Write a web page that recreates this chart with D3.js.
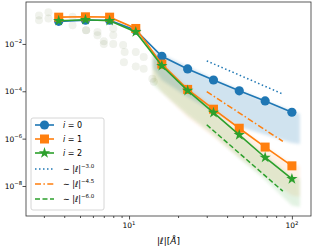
<!DOCTYPE html>
<html>
<head>
<meta charset="utf-8">
<script src="https://cdn.jsdelivr.net/npm/d3@7"></script>
<style>
  body { margin: 0; background: #fff; }
  svg { display: block; font-family: "DejaVu Sans", sans-serif; }
</style>
</head>
<body>
<div id="vis"></div>
<script>
const FRAME_WIDTH = 314;
const FRAME_HEIGHT = 246;
const MARGINS = {left: 26, right: 3, top: 2, bottom: 30};

// data
const xVals = [3.7, 5.4, 7.6, 11, 15.9, 22.9, 33, 47.5, 68.5, 100];
const blueVals = [0.09, 0.1, 0.1, 0.038, 3.0e-3, 8.8e-4, 3.0e-4, 1.05e-4, 3.9e-5, 1.3e-5];
const orangeVals = [0.135, 0.14, 0.135, 0.045, 1.4e-3, 1.2e-4, 1.75e-5, 2.75e-6, 4.4e-7, 7.1e-8];
const greenVals = [0.095, 0.105, 0.095, 0.032, 1.2e-3, 1.07e-4, 1.25e-5, 1.44e-6, 1.6e-7, 2.0e-8];
const seriesNames = ['0', '1', '2'];

// sample clouds (faint)
const cloudX = [2.8, 2.8, 3.2, 3.2, 4.5, 4.5, 5.45, 5.45, 6.4, 6.4, 7.0, 7.0, 8.0, 8.0, 8.0, 9.2, 9.3, 9.4, 11, 11, 12.3, 12.3, 13.9, 14.2];
const cloudY = [0.16, 0.10, 0.22, 0.12, 0.14, 0.062, 0.038, 0.038, 0.032, 0.023, 0.013, 0.010, 0.045, 0.023, 0.010, 0.009, 0.0017, 0.0046, 0.0046, 0.0011, 0.0028, 0.0009, 0.00034, 0.00025];
const bandX = [14, 15.9, 22.9, 33, 47.5, 68.5, 100, 112];
const blueHi = [6e-3, 3.6e-3, 1.1e-3, 3.4e-4, 1.15e-4, 4e-5, 1.5e-5, 1.1e-5];
const blueLo = [1e-3, 3e-4, 5.8e-5, 1.35e-5, 3.2e-6, 1.45e-6, 6.6e-7, 6e-7];
const orangeHi = [4e-3, 1.7e-3, 1.6e-4, 2.3e-5, 3.2e-6, 5e-7, 9e-8, 7e-8];
const orangeLo = [3e-4, 9e-5, 8e-6, 1.2e-6, 1.6e-7, 2.5e-8, 4e-9, 3.5e-9];
const greenHi = [3e-3, 1.3e-3, 1.3e-4, 1.5e-5, 1.5e-6, 2e-7, 2.5e-8, 2e-8];
const greenLo = [2e-4, 9e-5, 1e-5, 1.45e-6, 1.5e-7, 1.8e-8, 1.5e-9, 1.3e-9];

// power law guides
const refX = [30, 88];
const refExp = [-3.0, -4.5, -6.0];
const refCoef = [52, 430, 2800];
const refLabels = ['−3.0', '−4.5', '−6.0'];

const yTicks = [1e-2, 1e-4, 1e-6, 1e-8];
const yTickLabels = ['−2', '−4', '−6', '−8'];
const xTicks = [10, 100];
const xTickLabels = ['1', '2'];
const xMinor = [3, 4, 5, 6, 7, 8, 9, 20, 30, 40, 50, 60, 70, 80, 90];

const COLORS = ['#1f77b4', '#ff7f0e', '#2ca02c'];
const DASHES = ['1.5,2.5', '6,2.4,1.5,2.4', '5,2.5'];

const X_SCALE = d3.scaleLog().domain([2.33, 131]).range([MARGINS.left, FRAME_WIDTH - MARGINS.right]);
const Y_SCALE = d3.scaleLog().domain([0.59, 5.4e-10]).range([MARGINS.top, FRAME_HEIGHT - MARGINS.bottom]);

const FRAME = d3.select('#vis')
  .append('svg')
    .attr('width', FRAME_WIDTH)
    .attr('height', FRAME_HEIGHT);

const defs = FRAME.append('defs');
defs.append('clipPath').attr('id', 'clip')
  .append('rect')
    .attr('x', MARGINS.left).attr('y', MARGINS.top)
    .attr('width', FRAME_WIDTH - MARGINS.left - MARGINS.right)
    .attr('height', FRAME_HEIGHT - MARGINS.top - MARGINS.bottom);
defs.append('filter').attr('id', 'soft')
  .attr('x', '-10%').attr('y', '-10%').attr('width', '120%').attr('height', '120%')
  .append('feGaussianBlur').attr('stdDeviation', 1.8);

const plot = FRAME.append('g').attr('clip-path', 'url(#clip)');

// clouds
const cloudPts = cloudX.map((x, i) => ({x: x, y: cloudY[i]}));
COLORS.forEach((c) => {
  plot.append('g').selectAll('circle')
    .data(cloudPts)
    .enter()
    .append('circle')
      .attr('cx', (d) => X_SCALE(d.x))
      .attr('cy', (d) => Y_SCALE(d.y))
      .attr('r', 4)
      .attr('fill', c)
      .attr('opacity', 0.035);
});

const bands = [
  {lo: blueLo, hi: blueHi, op: 0.2},
  {lo: orangeLo, hi: orangeHi, op: 0.1},
  {lo: greenLo, hi: greenHi, op: 0.13}
];
const area = d3.area()
  .x((d) => X_SCALE(d.x))
  .y0((d) => Y_SCALE(d.lo))
  .y1((d) => Y_SCALE(d.hi));
bands.forEach((b, i) => {
  const pts = bandX.map((x, j) => ({x: x, lo: b.lo[j], hi: b.hi[j]}));
  plot.append('path')
    .attr('d', area(pts))
    .attr('fill', COLORS[i])
    .attr('opacity', b.op)
    .attr('filter', 'url(#soft)');
});

// guide lines
const line = d3.line().x((d) => X_SCALE(d.x)).y((d) => Y_SCALE(d.y));
refExp.forEach((e, i) => {
  const pts = refX.map((x) => ({x: x, y: refCoef[i] * Math.pow(x, e)}));
  plot.append('path')
    .attr('d', line(pts))
    .attr('fill', 'none')
    .attr('stroke', COLORS[i])
    .attr('stroke-width', 1.5)
    .attr('stroke-dasharray', DASHES[i]);
});

// main series
const allVals = [blueVals, orangeVals, greenVals];
function drawMarker(g, kind, color) {
  if (kind === 0) {
    g.append('circle').attr('r', 4.6).attr('fill', color);
  } else if (kind === 1) {
    g.append('rect').attr('x', -4.5).attr('y', -4.5).attr('width', 9).attr('height', 9).attr('fill', color);
  } else {
    g.append('path').attr('d', d3.symbol(d3.symbolStar, 40)()).attr('fill', color);
  }
}
allVals.forEach((vals, i) => {
  const pts = xVals.map((x, j) => ({x: x, y: vals[j]}));
  plot.append('path')
    .attr('d', line(pts))
    .attr('fill', 'none')
    .attr('stroke', COLORS[i])
    .attr('stroke-width', 1.6);
  plot.append('g').selectAll('g')
    .data(pts)
    .enter()
    .append('g')
      .attr('transform', (d) => 'translate(' + X_SCALE(d.x) + ',' + Y_SCALE(d.y) + ')')
      .each(function () { drawMarker(d3.select(this), i, COLORS[i]); });
});

// axes
const bottom = FRAME_HEIGHT - MARGINS.bottom;
FRAME.append('g')
  .attr('transform', 'translate(0,' + bottom + ')')
  .call(d3.axisBottom(X_SCALE).tickValues(xTicks).tickFormat('').tickSize(3.5))
  .call((g) => g.select('.domain').remove());
FRAME.append('g')
  .attr('transform', 'translate(0,' + bottom + ')')
  .call(d3.axisBottom(X_SCALE).tickValues(xMinor).tickFormat('').tickSize(2))
  .call((g) => g.select('.domain').remove());
FRAME.append('g')
  .attr('transform', 'translate(' + MARGINS.left + ',0)')
  .call(d3.axisLeft(Y_SCALE).tickValues(yTicks).tickFormat('').tickSize(3.5))
  .call((g) => g.select('.domain').remove());
FRAME.selectAll('.tick line').attr('stroke', '#222').attr('stroke-width', 0.8);

xTicks.forEach((t, i) => {
  const tx = FRAME.append('text')
    .attr('x', X_SCALE(t)).attr('y', bottom + 12)
    .attr('text-anchor', 'middle')
    .attr('font-size', 7.5);
  tx.append('tspan').text('10');
  tx.append('tspan').attr('dy', -3.5).attr('font-size', 5.3).text(xTickLabels[i]);
});
yTicks.forEach((t, i) => {
  const ty = FRAME.append('text')
    .attr('x', 22).attr('y', Y_SCALE(t) + 3)
    .attr('text-anchor', 'end')
    .attr('font-size', 7.5);
  ty.append('tspan').text('10');
  ty.append('tspan').attr('dy', -3.5).attr('font-size', 5.3).text(yTickLabels[i]);
});

const xl = FRAME.append('text')
  .attr('x', (MARGINS.left + FRAME_WIDTH - MARGINS.right) / 2)
  .attr('y', 244)
  .attr('text-anchor', 'middle')
  .attr('font-size', 9);
xl.append('tspan').text('|');
xl.append('tspan').attr('font-style', 'italic').text('ℓ');
xl.append('tspan').text('|[');
xl.append('tspan').attr('font-style', 'italic').text('Å');
xl.append('tspan').text(']');

// frame
FRAME.append('rect')
  .attr('x', MARGINS.left).attr('y', MARGINS.top)
  .attr('width', FRAME_WIDTH - MARGINS.left - MARGINS.right)
  .attr('height', FRAME_HEIGHT - MARGINS.top - MARGINS.bottom)
  .attr('fill', 'none')
  .attr('stroke', '#333')
  .attr('stroke-width', 0.8);

// legend
const LEG = FRAME.append('g');
LEG.append('rect')
  .attr('x', 31).attr('y', 118).attr('width', 73).attr('height', 92)
  .attr('rx', 2)
  .attr('fill', '#fff').attr('fill-opacity', 0.8)
  .attr('stroke', '#ccc').attr('stroke-width', 0.8);
const rowY = [125, 139, 153, 169, 184, 199];
seriesNames.forEach((n, i) => {
  const y = rowY[i];
  LEG.append('line').attr('x1', 35).attr('x2', 54).attr('y1', y).attr('y2', y)
    .attr('stroke', COLORS[i]).attr('stroke-width', 1.6);
  drawMarker(LEG.append('g').attr('transform', 'translate(44.5,' + y + ')'), i, COLORS[i]);
  const t = LEG.append('text').attr('x', 63).attr('y', y + 3).attr('font-size', 8);
  t.append('tspan').attr('font-style', 'italic').text('i');
  t.append('tspan').text(' = ' + n);
});
refLabels.forEach((lab, i) => {
  const y = rowY[i + 3];
  LEG.append('line').attr('x1', 35).attr('x2', 54).attr('y1', y).attr('y2', y)
    .attr('stroke', COLORS[i]).attr('stroke-width', 1.5)
    .attr('stroke-dasharray', DASHES[i]);
  const t = LEG.append('text').attr('x', 63).attr('y', y + 3).attr('font-size', 8);
  t.append('tspan').text('∼ |');
  t.append('tspan').attr('font-style', 'italic').text('ℓ');
  t.append('tspan').text('|');
  t.append('tspan').attr('dy', -4).attr('font-size', 5.5).text(lab);
});
</script>
</body>
</html>
